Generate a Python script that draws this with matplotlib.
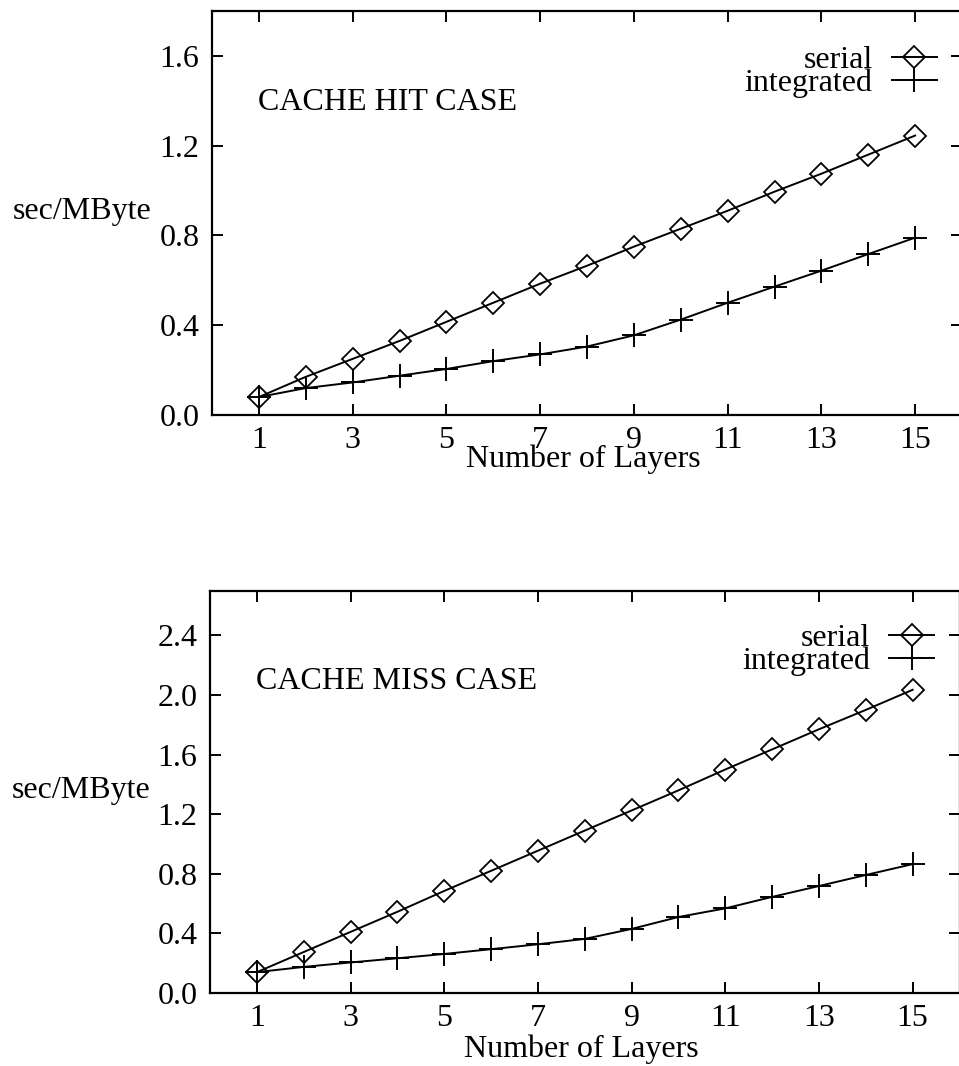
import matplotlib
matplotlib.use('Agg')
import matplotlib.pyplot as plt

plt.rcParams['font.family'] = ['Liberation Serif', 'DejaVu Serif']
plt.rcParams['font.size'] = 23

# layers on the x axis
layers = list(range(1, 16))

# cache hit case (sec/MByte)
hit_serial = [0.08, 0.17, 0.25, 0.33, 0.415, 0.50, 0.585, 0.665, 0.75, 0.83,
              0.91, 0.995, 1.075, 1.16, 1.245]
hit_integrated = [0.08, 0.12, 0.145, 0.175, 0.205, 0.24, 0.27, 0.305, 0.355, 0.425,
                  0.50, 0.572, 0.643, 0.717, 0.79]

# cache miss case (sec/MByte)
miss_serial = [0.14, 0.275, 0.41, 0.545, 0.685, 0.82, 0.955, 1.09, 1.225, 1.36,
               1.50, 1.635, 1.77, 1.90, 2.035]
miss_integrated = [0.14, 0.175, 0.205, 0.233, 0.262, 0.294, 0.327, 0.363, 0.43, 0.51,
                   0.568, 0.645, 0.718, 0.792, 0.865]

xticks = [1, 3, 5, 7, 9, 11, 13, 15]
hit_yticks = [0.0, 0.4, 0.8, 1.2, 1.6]
miss_yticks = [0.0, 0.4, 0.8, 1.2, 1.6, 2.0, 2.4]


def draw_panel(ax, serial, integrated, yticks, ymax, title, leg_y):
    ax.plot(layers, serial, color='black', lw=1.4, marker='D', ms=11.5,
            mfc='none', mec='black', mew=1.3, label='serial')
    ax.plot(layers, integrated, color='black', lw=1.4, marker='+', ms=17,
            mew=1.4, label='integrated')
    ax.set_xlim(0, 16)
    ax.set_ylim(0, ymax)
    ax.set_xticks(xticks)
    ax.set_yticks(yticks)
    ax.set_yticklabels(['%.1f' % v for v in yticks])
    ax.tick_params(direction='in', top=True, right=True, length=8, width=1.4)
    ax.tick_params(axis='x', pad=8)
    ax.tick_params(axis='y', pad=9)
    for s in ax.spines.values():
        s.set_linewidth(1.6)
    ax.text(0.062, 0.755, title, transform=ax.transAxes, ha='left', va='baseline')
    ax.text(-0.08, 0.484, 'sec/MByte', transform=ax.transAxes, ha='right', va='baseline')
    ax.legend(loc='upper right', bbox_to_anchor=(0.966, leg_y), frameon=False,
              markerfirst=False, handlelength=1.4, handletextpad=0.6,
              labelspacing=-0.2, borderpad=0, borderaxespad=0, fontsize=23)


fig = plt.figure(figsize=(9.59, 10.66), dpi=100)
ax1 = fig.add_axes([212 / 959, 1 - 415 / 1066, 750 / 959, 404 / 1066])
ax2 = fig.add_axes([210 / 959, 1 - 993 / 1066, 749.5 / 959, 402.3 / 1066])

draw_panel(ax1, hit_serial, hit_integrated, hit_yticks, 1.8, 'CACHE HIT CASE', 0.915)
draw_panel(ax2, miss_serial, miss_integrated, miss_yticks, 2.7, 'CACHE MISS CASE', 0.918)

ax1.text(0.495, -0.129, 'Number of Layers', transform=ax1.transAxes, ha='center', va='baseline')
ax2.text(0.496, -0.159, 'Number of Layers', transform=ax2.transAxes, ha='center', va='baseline')

fig.savefig('out.png', dpi=100)
